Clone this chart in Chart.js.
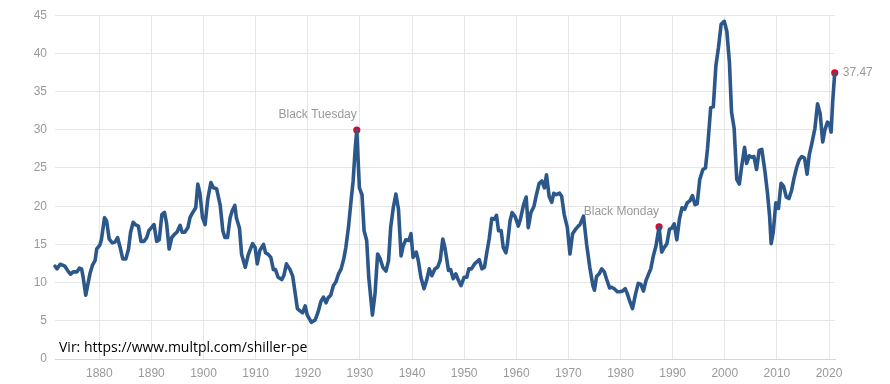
<!DOCTYPE html>
<html>
<head>
<meta charset="utf-8">
<script src="https://cdn.jsdelivr.net/npm/chart.js@4/dist/chart.umd.min.js"></script>
<style>
  html, body { margin: 0; padding: 0; background: #ffffff; }
  #wrap { width: 890px; height: 384px; position: relative; }
</style>
</head>
<body>
<div id="wrap"><canvas id="c" width="890" height="384"></canvas></div>
<script>
// ---- data ----
const years = [
  1871.5,1871.9,1872.5,1873.4,1874.1,1874.5,1875.0,1875.7,1876.2,1876.6,1876.9,1877.4,1878.2,1878.7,1879.2,1879.5,
  1880.1,1880.4,1881.0,1881.4,1881.9,1882.5,1883.0,1883.5,1884.0,1884.5,1885.1,1885.6,1886.0,1886.5,1887.0,1887.5,
  1888.0,1888.6,1889.1,1889.5,1890.0,1890.5,1891.0,1891.5,1892.0,1892.5,1892.9,1893.4,1893.9,1894.4,1894.9,1895.5,
  1895.9,1896.4,1897.0,1897.4,1897.9,1898.5,1898.9,1899.3,1899.8,1900.3,1900.8,1901.4,1901.9,1902.5,1903.2,1903.7,
  1904.1,1904.6,1905.1,1905.5,1906.0,1906.3,1906.9,1907.3,1908.0,1908.6,1909.4,1909.9,1910.3,1910.8,1911.5,1911.9,
  1912.4,1912.9,1913.4,1913.8,1914.3,1915.0,1915.4,1915.9,1916.6,1917.1,1917.5,1918.0,1918.5,1919.0,1919.5,1919.9,
  1920.7,1921.4,1922.0,1922.5,1923.0,1923.5,1923.9,1924.4,1924.9,1925.4,1925.9,1926.4,1926.9,1927.3,1927.8,1928.3,
  1928.7,1929.1,1929.4,1929.9,1930.4,1930.8,1931.3,1931.7,1932.4,1932.9,1933.4,1933.9,1934.4,1935.0,1935.5,1935.9,
  1936.4,1936.9,1937.4,1937.9,1938.3,1938.8,1939.4,1939.8,1940.2,1940.8,1941.2,1941.7,1942.3,1942.8,1943.3,1943.8,
  1944.4,1944.9,1945.4,1945.9,1946.3,1947.0,1947.4,1947.9,1948.4,1948.9,1949.4,1950.0,1950.5,1950.9,1951.4,1952.0,
  1952.4,1952.9,1953.4,1953.9,1954.3,1954.8,1955.3,1955.8,1956.2,1956.6,1957.1,1957.5,1958.0,1958.3,1958.8,1959.2,
  1959.8,1960.4,1960.8,1961.4,1961.9,1962.3,1962.8,1963.4,1963.9,1964.4,1964.9,1965.4,1965.8,1966.3,1966.8,1967.2,
  1967.7,1968.3,1968.7,1969.2,1969.8,1970.3,1970.8,1971.4,1971.9,1972.2,1972.9,1973.5,1974.1,1974.7,1975.0,1975.4,
  1975.9,1976.4,1976.9,1977.3,1977.9,1978.3,1978.8,1979.4,1979.9,1980.4,1980.9,1981.3,1981.8,1982.3,1982.9,1983.4,
  1983.9,1984.4,1984.9,1985.4,1985.8,1986.3,1986.8,1987.4,1987.9,1988.4,1988.9,1989.4,1989.8,1990.3,1990.8,1991.3,
  1991.8,1992.3,1992.8,1993.3,1993.8,1994.3,1994.7,1995.2,1995.8,1996.3,1996.7,1997.3,1997.8,1998.3,1998.8,1999.3,
  1999.9,2000.4,2000.9,2001.3,2001.8,2002.3,2002.8,2003.2,2003.8,2004.2,2004.7,2005.2,2005.6,2006.1,2006.6,2007.1,
  2007.7,2008.2,2008.6,2008.9,2009.3,2009.8,2010.3,2010.8,2011.3,2011.8,2012.3,2012.8,2013.3,2013.8,2014.3,2014.8,
  2015.3,2015.8,2016.2,2016.7,2017.3,2017.8,2018.3,2018.8,2019.2,2019.7,2020.1,2020.4,2020.7,2021.1
];
const shillerPE = [
  12.15,11.8,12.4,12.15,11.4,11.1,11.4,11.4,11.9,11.8,10.7,8.35,11.15,12.3,12.9,14.4,
  14.9,15.6,18.5,18.07,15.7,15.2,15.3,15.9,14.6,13.1,13.1,14.4,16.6,17.9,17.55,17.4,
  15.4,15.4,15.9,16.8,17.2,17.6,15.4,15.6,18.9,19.2,17.8,14.4,15.9,16.3,16.6,17.5,
  16.6,16.6,17.2,18.5,19.15,19.8,22.9,21.7,18.5,17.6,20.9,23.1,22.4,22.3,20.1,16.8,
  15.9,15.9,18.5,19.4,20.1,18.5,17.1,13.7,12.0,13.7,15.1,14.6,12.45,14.2,15.0,13.9,
  13.7,13.3,11.7,11.7,10.7,10.4,10.9,12.45,11.7,10.85,9.0,6.6,6.3,6.05,6.96,5.75,
  4.8,5.1,6.2,7.5,8.1,7.35,8.0,8.35,9.6,10.1,11.15,11.8,13.1,14.6,17.2,20.7,
  23.3,27.6,29.96,22.4,21.5,16.8,15.5,10.7,5.75,8.56,13.75,13.1,12.0,11.5,12.9,17.2,
  19.8,21.6,19.6,13.5,14.8,15.6,15.5,16.4,13.3,14.0,12.9,10.7,9.2,10.3,11.8,10.9,
  11.8,12.0,12.9,15.7,14.6,11.6,11.7,10.5,11.15,10.3,9.6,10.7,10.7,11.8,11.8,12.45,
  12.7,13.0,11.8,12.0,13.75,15.7,18.4,18.3,18.8,16.8,16.8,14.6,13.9,15.0,18.07,19.15,
  18.6,17.4,18.3,20.2,21.2,17.2,19.15,20.0,21.6,23.0,23.3,22.4,24.1,21.3,20.5,21.7,
  21.5,21.7,21.3,18.9,17.2,13.75,16.4,17.0,17.4,17.55,18.7,15.0,12.0,9.6,9.0,10.8,
  11.15,11.8,11.4,10.5,9.3,9.4,9.2,8.8,8.8,8.9,9.2,8.56,7.5,6.6,8.56,9.9,
  9.8,8.9,10.3,11.15,11.8,13.5,14.8,17.3,14.0,14.6,15.1,17.0,17.1,17.7,15.6,18.3,
  19.8,19.6,20.45,20.7,21.4,20.2,20.3,23.5,24.8,25.0,27.6,32.9,33.0,38.4,40.8,43.8,
  44.2,42.9,38.8,32.3,30.2,23.5,22.9,25.0,27.7,25.6,26.6,26.4,26.5,24.8,27.3,27.45,
  24.6,21.7,18.7,15.1,16.6,20.45,19.7,23.0,22.6,21.2,21.0,22.0,23.7,25.1,26.1,26.5,
  26.3,24.2,26.7,28.2,30.2,33.4,32.1,28.4,29.96,31.0,30.8,29.7,33.6,37.47
];
const markYears  = [1929.4, 1987.4, 2021.1];
const markValues = [29.96, 17.3, 37.47];
const markLabels = ['Black Tuesday', 'Black Monday', '37.47'];
const xTicks = [1880,1890,1900,1910,1920,1930,1940,1950,1960,1970,1980,1990,2000,2010,2020];
const yTicks = [0,5,10,15,20,25,30,35,40,45];
const sourceText = 'Vir: https://www.multpl.com/shiller-pe';

// ---- chart ----
const labelFont = '12px "Liberation Sans", Arial, sans-serif';
const markLabelPlugin = {
  id: 'markLabels',
  afterDatasetsDraw(chart) {
    const ctx = chart.ctx;
    const meta = chart.getDatasetMeta(1);
    ctx.save();
    ctx.font = labelFont;
    ctx.fillStyle = '#999999';
    ctx.textBaseline = 'middle';
    meta.data.forEach((pt, i) => {
      if (i === markLabels.length - 1) {
        ctx.textAlign = 'left';
        ctx.fillText(markLabels[i], pt.x + 8, pt.y);
      } else {
        ctx.textAlign = 'right';
        ctx.fillText(markLabels[i], pt.x, pt.y - 15.5);
      }
    });
    ctx.font = '14px "Open Sans", sans-serif';
    ctx.fillStyle = '#000000';
    ctx.textAlign = 'left';
    ctx.textBaseline = 'alphabetic';
    ctx.fillText(sourceText, 59, 351.5);
    ctx.restore();
  }
};

new Chart(document.getElementById('c'), {
  type: 'line',
  data: {
    datasets: [
      {
        data: years.map((y, i) => ({ x: y, y: shillerPE[i] })),
        borderColor: '#2c578b',
        borderWidth: 3.6,
        pointRadius: 0,
        tension: 0,
        borderJoinStyle: 'round',
        borderCapStyle: 'round',
        fill: false,
        clip: false
      },
      {
        data: markYears.map((y, i) => ({ x: y, y: markValues[i] })),
        showLine: false,
        clip: false,
        pointRadius: 3.6,
        pointBackgroundColor: '#e8001f',
        pointBorderColor: '#e8001f',
        pointBorderWidth: 0
      }
    ]
  },
  options: {
    responsive: false,
    animation: false,
    devicePixelRatio: 1,
    layout: { padding: { top: 12.5, right: 55, left: 0, bottom: 0 } },
    plugins: { legend: { display: false }, tooltip: { enabled: false } },
    scales: {
      x: {
        type: 'linear',
        min: 1871.5,
        max: 2021.15,
        afterBuildTicks: (s) => { s.ticks = xTicks.map(v => ({ value: v })); },
        afterFit: (s) => { s.height = 25; },
        grid: { color: '#e6e6e6', lineWidth: 1, drawTicks: false },
        border: { display: true, color: '#d6d6d6', width: 1 },
        ticks: {
          padding: 7,
          color: '#999999',
          font: { family: '"Liberation Sans", Arial, sans-serif', size: 12 },
          maxRotation: 0,
          autoSkip: false,
          callback: (v) => String(v)
        }
      },
      y: {
        min: 0,
        max: 45,
        afterBuildTicks: (s) => { s.ticks = yTicks.map(v => ({ value: v })); },
        afterFit: (s) => { s.width = 55; },
        grid: { color: '#e6e6e6', lineWidth: 1, drawTicks: false },
        border: { display: false },
        ticks: {
          padding: 8,
          color: '#999999',
          font: { family: '"Liberation Sans", Arial, sans-serif', size: 12 },
          callback: (v) => String(v)
        }
      }
    }
  },
  plugins: [markLabelPlugin]
});
</script>
</body>
</html>
